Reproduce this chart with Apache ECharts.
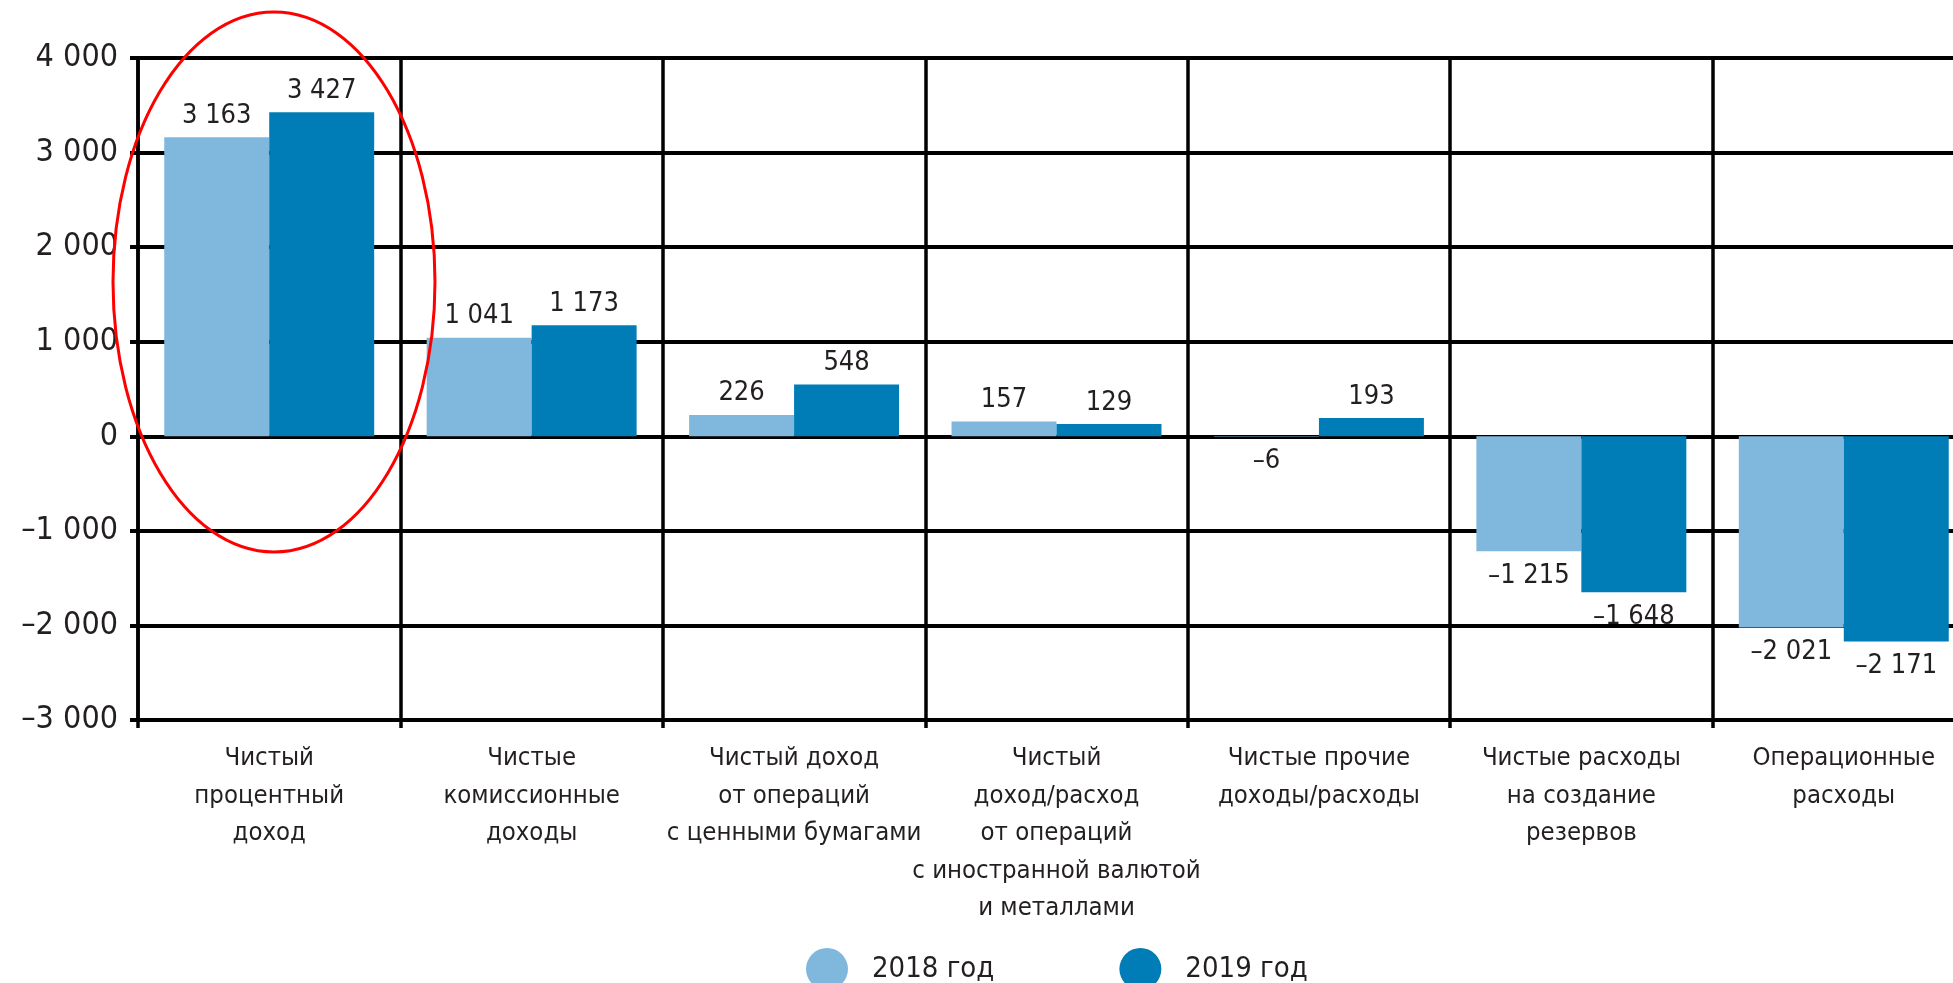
<!DOCTYPE html>
<html>
<head>
<meta charset="utf-8">
<script src="https://cdn.jsdelivr.net/npm/echarts@6/dist/echarts.min.js"></script>
<style>
html,body{margin:0;padding:0;background:#fff;}
#chart{width:1953px;height:983px;}
</style>
</head>
<body>
<div id="chart"></div>
<script>
const categories = [
  "Чистый\nпроцентный\nдоход",
  "Чистые\nкомиссионные\nдоходы",
  "Чистый доход\nот операций\nс ценными бумагами",
  "Чистый\nдоход/расход\nот операций\nс иностранной валютой\nи металлами",
  "Чистые прочие\nдоходы/расходы",
  "Чистые расходы\nна создание\nрезервов",
  "Операционные\nрасходы"
];
const values2018 = [3163, 1041, 226, 157, -6, -1215, -2021];
const values2019 = [3427, 1173, 548, 129, 193, -1648, -2171];
const seriesNames = ["2018 год", "2019 год"];
const yTicks = { min: -3000, max: 4000, interval: 1000 };

const FONT = "'DejaVu Sans Condensed', 'Liberation Sans Narrow', sans-serif";
const TEXT = '#231f20';

function fmt(v) {
  const s = Math.abs(v).toString().replace(/\B(?=(\d{3})+(?!\d))/g, ' ');
  return (v < 0 ? '\u2013' : '') + s;
}
function toData(arr) {
  return arr.map(v => ({
    value: v,
    label: v < 0 ? { position: 'bottom', distance: 11 } : { position: 'top', distance: 8 }
  }));
}

const chart = echarts.init(document.getElementById('chart'), null, { renderer: 'canvas' });
const barLabel = {
  show: true,
  color: TEXT,
  fontFamily: FONT,
  fontSize: 27,
  formatter: p => fmt(p.value)
};
chart.setOption({
  animation: false,
  backgroundColor: '#fff',
  grid: { left: 138, top: 58, bottom: 263, right: -22, containLabel: false, outerBoundsMode: 'none' },
  legend: {
    left: 801, top: 943,
    icon: 'circle', itemWidth: 42, itemHeight: 42, itemGap: 125,
    textStyle: { fontFamily: FONT, fontSize: 29, color: TEXT, padding: [0, 0, 0, 19] },
    data: seriesNames
  },
  xAxis: {
    type: 'category',
    data: categories,
    boundaryGap: true,
    axisLine: { show: true, onZero: false, lineStyle: { color: '#000', width: 4 } },
    axisTick: { show: true, length: 8, interval: 0, lineStyle: { color: '#000', width: 3.5 } },
    splitLine: { show: true, interval: 0, lineStyle: { color: '#000', width: 3.5 } },
    axisLabel: { interval: 0, margin: 20, color: TEXT, fontFamily: FONT, fontSize: 25.5, lineHeight: 37.5, align: 'center' }
  },
  yAxis: {
    type: 'value',
    min: yTicks.min, max: yTicks.max, interval: yTicks.interval,
    axisLine: { show: true, lineStyle: { color: '#000', width: 3.5 } },
    axisTick: { show: true, length: 8, lineStyle: { color: '#000', width: 4 } },
    splitLine: { show: true, lineStyle: { color: '#000', width: 4 } },
    axisLabel: { margin: 20, color: TEXT, fontFamily: FONT, fontSize: 32, formatter: v => fmt(v) }
  },
  series: [
    { name: seriesNames[0], type: 'bar', data: toData(values2018), barWidth: '40%', barGap: '0%',
      itemStyle: { color: '#7fb8dc' }, label: barLabel },
    { name: seriesNames[1], type: 'bar', data: toData(values2019), barWidth: '40%', barGap: '0%',
      itemStyle: { color: '#007cb6' }, label: barLabel }
  ],
  graphic: [
    { type: 'ellipse', shape: { cx: 274, cy: 282, rx: 161, ry: 270 },
      style: { fill: null, stroke: '#ff0000', lineWidth: 3 }, z: 100 }
  ]
});
</script>
</body>
</html>
